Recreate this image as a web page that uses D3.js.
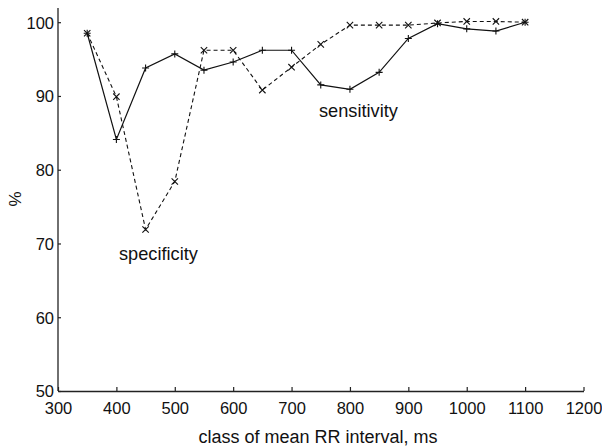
<!DOCTYPE html>
<html>
<head>
<meta charset="utf-8">
<script src="https://cdn.jsdelivr.net/npm/d3@7"></script>
<style>
  html, body { margin: 0; padding: 0; background: #fff; }
  text { font-family: "Liberation Sans", Arial, Helvetica, sans-serif; fill: #111; }
</style>
</head>
<body>
<svg id="chart" width="602" height="447"></svg>
<script>
// Class of mean RR interval (ms)
const rrClass = [350, 400, 450, 500, 550, 600, 650, 700, 750, 800, 850, 900, 950, 1000, 1050, 1100];
// Sensitivity (%) per class – solid line, "+" markers
const sensitivity = [98.5, 84.1, 93.8, 95.7, 93.5, 94.6, 96.2, 96.2, 91.5, 90.9, 93.2, 97.8, 99.8, 99.1, 98.8, 100.0];
// Specificity (%) per class – dashed line, "x" markers
const specificity = [98.5, 89.9, 71.9, 78.4, 96.2, 96.2, 90.8, 93.9, 97.0, 99.6, 99.6, 99.6, 99.9, 100.1, 100.1, 100.0];
// Axis ticks
const xTicks = [300, 400, 500, 600, 700, 800, 900, 1000, 1100, 1200];
const yTicks = [50, 60, 70, 80, 90, 100];

const svg = d3.select("#chart");
const x = d3.scaleLinear().domain([300, 1200]).range([58, 583.5]);
const y = d3.scaleLinear().domain([50, 100]).range([391, 22.2]);

// Y axis: inward ticks
const yAxis = d3.axisLeft(y).tickValues(yTicks).tickFormat(d3.format("d"))
  .tickSizeInner(-3).tickSizeOuter(0).tickPadding(6);
const gy = svg.append("g").attr("transform", `translate(${x(300)},0)`).call(yAxis);
gy.select(".domain").remove();
svg.append("line").attr("x1", x(300)).attr("x2", x(300)).attr("y1", y(50)).attr("y2", 8)
  .attr("stroke", "#222").attr("stroke-width", 1.3);
gy.selectAll(".tick line").attr("stroke", "#222").attr("stroke-width", 1.2);
gy.selectAll(".tick text").attr("font-size", 16.5).attr("dy", "0.36em").attr("x", -4);

// X axis: inward ticks
const xAxis = d3.axisBottom(x).tickValues(xTicks).tickFormat(d3.format("d"))
  .tickSizeInner(-4).tickSizeOuter(0).tickPadding(11);
const gx = svg.append("g").attr("transform", `translate(0,${y(50)})`).call(xAxis);
gx.select(".domain").attr("stroke", "#222").attr("stroke-width", 1.3);
gx.selectAll(".tick line").attr("stroke", "#222").attr("stroke-width", 1.2);
gx.selectAll(".tick text").attr("font-size", 16.5).attr("dy", "0.75em");

// Axis titles
svg.append("text").attr("x", 318).attr("y", 443).attr("text-anchor", "middle")
  .attr("font-size", 18).text("class of mean RR interval, ms");
svg.append("text").attr("transform", `translate(21,199) rotate(-90)`).attr("text-anchor", "middle")
  .attr("font-size", 17).text("%");

const line = d3.line().x((d, i) => x(rrClass[i])).y(d => y(d));

// Sensitivity: solid line
svg.append("path").datum(sensitivity).attr("d", line)
  .attr("fill", "none").attr("stroke", "#111").attr("stroke-width", 1.2);
// Specificity: dashed line
svg.append("path").datum(specificity).attr("d", line)
  .attr("fill", "none").attr("stroke", "#111").attr("stroke-width", 1.1)
  .attr("stroke-dasharray", "4,3");

// "+" markers
const s = 3.5;
svg.append("g").selectAll("path").data(sensitivity).join("path")
  .attr("d", (d, i) => {
    const cx = x(rrClass[i]), cy = y(d);
    return `M${cx - s},${cy}H${cx + s}M${cx},${cy - s}V${cy + s}`;
  })
  .attr("stroke", "#111").attr("stroke-width", 1.1).attr("fill", "none");
// "x" markers
const k = 3.2;
svg.append("g").selectAll("path").data(specificity).join("path")
  .attr("d", (d, i) => {
    const cx = x(rrClass[i]), cy = y(d);
    return `M${cx - k},${cy - k}L${cx + k},${cy + k}M${cx - k},${cy + k}L${cx + k},${cy - k}`;
  })
  .attr("stroke", "#111").attr("stroke-width", 1.1).attr("fill", "none");

// Series labels
svg.append("text").attr("x", 319).attr("y", 117).attr("font-size", 18.2).text("sensitivity");
svg.append("text").attr("x", 119).attr("y", 260).attr("font-size", 18.2).text("specificity");
</script>
</body>
</html>
